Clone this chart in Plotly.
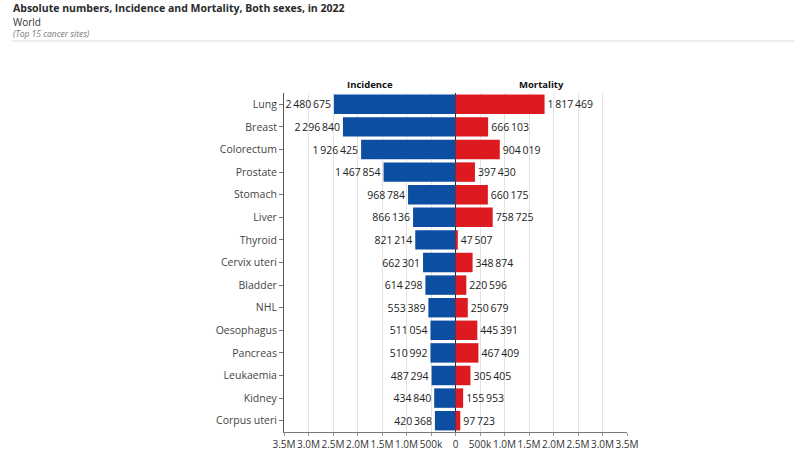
import plotly.graph_objects as go

sites = ["Lung", "Breast", "Colorectum", "Prostate", "Stomach", "Liver", "Thyroid",
         "Cervix uteri", "Bladder", "NHL", "Oesophagus", "Pancreas", "Leukaemia",
         "Kidney", "Corpus uteri"]
incidence = [2480675, 2296840, 1926425, 1467854, 968784, 866136, 821214,
             662301, 614298, 553389, 511054, 510992, 487294, 434840, 420368]
mortality = [1817469, 666103, 904019, 397430, 660175, 758725, 47507,
             348874, 220596, 250679, 445391, 467409, 305405, 155953, 97723]
tick_vals = [-3.5e6, -3e6, -2.5e6, -2e6, -1.5e6, -1e6, -5e5, 0,
             5e5, 1e6, 1.5e6, 2e6, 2.5e6, 3e6, 3.5e6]
tick_text = ["3.5M", "3.0M", "2.5M", "2.0M", "1.5M", "1.0M", "500k", "0",
             "500k", "1.0M", "1.5M", "2.0M", "2.5M", "3.0M", "3.5M"]

def fmt(v):
    return f"{v:,}".replace(",", "\u2009")

BLUE = "#0b4ea2"
RED = "#dc1a1f"
FONT = "Open Sans, DejaVu Sans, sans-serif"

W, H = 800, 450
ML, MR, MT, MB = 284, 173, 93, 18
PW, PH = W - ML - MR, H - MT - MB

fig = go.Figure()
fig.add_trace(go.Bar(
    y=sites, x=[-v for v in incidence], orientation="h", name="Incidence",
    marker=dict(color=BLUE, line=dict(width=0)), width=0.86,
    text=[fmt(v) for v in incidence], textposition="outside",
    textfont=dict(size=10.5, color="#222"), cliponaxis=False,
    hovertemplate="%{y}: %{text}<extra>Incidence</extra>"))
fig.add_trace(go.Bar(
    y=sites, x=mortality, orientation="h", name="Mortality",
    marker=dict(color=RED, line=dict(width=0)), width=0.86,
    text=[fmt(v) for v in mortality], textposition="outside",
    textfont=dict(size=10.5, color="#222"), cliponaxis=False,
    hovertemplate="%{y}: %{text}<extra>Mortality</extra>"))

fig.update_layout(
    width=W, height=H, barmode="overlay", showlegend=False,
    plot_bgcolor="white", paper_bgcolor="white",
    font=dict(family=FONT, size=10.5, color="#333"),
    margin=dict(l=ML, r=MR, t=MT, b=MB, autoexpand=False),
    xaxis=dict(range=[-3.5e6, 3.5e6], tickvals=tick_vals, ticktext=tick_text,
               tickangle=0, automargin=False,
               showgrid=True, gridcolor="#e3e3e3", gridwidth=1,
               zeroline=True, zerolinecolor="#1a2a3a", zerolinewidth=1,
               showline=True, linecolor="#777", linewidth=1,
               ticks="outside", ticklen=3, tickcolor="#999",
               tickfont=dict(size=10, color="#333"), fixedrange=True),
    yaxis=dict(categoryorder="array", categoryarray=sites[::-1], automargin=False,
               showline=True, linecolor="#555", linewidth=1,
               ticks="outside", ticklen=4, tickcolor="#777",
               tickfont=dict(size=10.5, color="#444"), fixedrange=True),
)

fig.add_annotation(text="<b>Incidence</b>", xref="x", yref="paper", x=-1.75e6, y=1.0,
                   yanchor="bottom", showarrow=False, font=dict(size=9.5, color="#111"))
fig.add_annotation(text="<b>Mortality</b>", xref="x", yref="paper", x=1.75e6, y=1.0,
                   yanchor="bottom", showarrow=False, font=dict(size=9.5, color="#111"))

def px_x(x):
    return (x - ML) / PW

def px_y(y):
    return 1 + (MT - y) / PH

def header(text, ypx, size, color):
    fig.add_annotation(text=text, xref="paper", yref="paper",
                       x=px_x(12), y=px_y(ypx),
                       xanchor="left", yanchor="top", showarrow=False,
                       borderpad=0,
                       font=dict(size=size, color=color, family=FONT))

header("<b>Absolute numbers, Incidence and Mortality, Both sexes, in 2022</b>", 0, 10.5, "#2a2a2a")
header("World", 14, 10, "#333")
header("<i>(Top 15 cancer sites)</i>", 27, 8.5, "#777")

fig.add_shape(type="line", xref="paper", yref="paper",
              x0=px_x(12), x1=px_x(795), y0=px_y(41), y1=px_y(41),
              line=dict(color="#dddddd", width=1))

fig.write_html("out.html", config={"displayModeBar": False},
               post_script="document.body.style.margin='0';document.body.style.overflow='hidden';")
